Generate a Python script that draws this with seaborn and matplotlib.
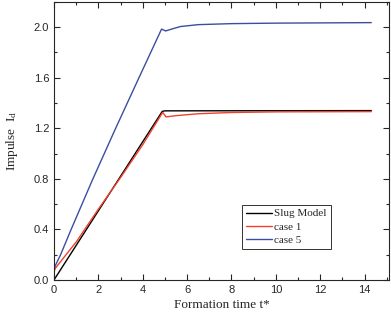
import pandas as pd
import matplotlib
matplotlib.use("Agg")
import matplotlib.pyplot as plt
import seaborn as sns
from matplotlib.ticker import MultipleLocator, FormatStrFormatter

# Data
slug_t = [0.0, 4.88, 5.0, 14.3]
slug_i = [0.0, 1.334, 1.338, 1.340]

case1_t = [0.0, 0.05, 0.5, 1.0, 2.0, 3.0, 4.0, 4.9, 5.05, 5.5, 6.5, 8.0, 10.0, 14.3]
case1_i = [0.06, 0.09, 0.19, 0.30, 0.56, 0.81, 1.07, 1.326, 1.29, 1.30, 1.315, 1.325, 1.330, 1.332]

case5_t = [0.0, 0.05, 0.3, 0.75, 1.73, 2.78, 3.83, 4.85, 5.03, 5.4, 5.7, 6.5, 8.0, 10.0, 14.3]
case5_i = [0.07, 0.11, 0.20, 0.39, 0.79, 1.20, 1.60, 1.985, 1.97, 1.99, 2.005, 2.02, 2.028, 2.032, 2.036]

labels = ["Slug Model", "case 1", "case 5"]
colors = ["#000000", "#f0402e", "#3b4ea0"]

frames = []
for name, t, i in zip(labels, [slug_t, case1_t, case5_t], [slug_i, case1_i, case5_i]):
    frames.append(pd.DataFrame({"t": t, "I": i, "series": name}))
df = pd.concat(frames, ignore_index=True)

sns.set_style("ticks")
plt.rcParams["font.family"] = ["Liberation Sans", "DejaVu Sans"]
plt.rcParams["mathtext.fontset"] = "custom"
plt.rcParams["mathtext.rm"] = "Liberation Serif"
plt.rcParams["mathtext.it"] = "Liberation Serif"

fig = plt.figure(figsize=(3.91, 3.16), dpi=100)
ax = fig.add_axes([0.138, 0.114, 0.857, 0.880])

sns.lineplot(data=df, x="t", y="I", hue="series", palette=dict(zip(labels, colors)),
             hue_order=labels, linewidth=1.0, sort=False, ax=ax, estimator=None)

ax.set_xlim(0, 15.1)
ax.set_ylim(0, 2.2)
ax.xaxis.set_major_locator(MultipleLocator(2))
ax.xaxis.set_minor_locator(MultipleLocator(1))
ax.yaxis.set_major_locator(MultipleLocator(0.4))
ax.yaxis.set_minor_locator(MultipleLocator(0.2))
ax.yaxis.set_major_formatter(FormatStrFormatter("%.1f"))
ax.tick_params(which="both", direction="in", top=True, right=True, labelsize=8, width=0.8)
ax.tick_params(which="major", length=4)
ax.tick_params(which="minor", length=2.5)
for s in ax.spines.values():
    s.set_linewidth(0.8)

serif = ["Liberation Serif", "DejaVu Serif"]
ax.set_xlabel("Formation time t*", family=serif, fontsize=9.5, labelpad=3)
ax.set_ylabel("Impulse  I$_\\mathregular{d}$", family=serif, fontsize=9.5, labelpad=10)

leg = ax.legend(loc="lower left", bbox_to_anchor=(0.562, 0.113), frameon=True, fancybox=False,
                edgecolor="#333333", framealpha=1, prop={"family": serif, "size": 8},
                handlelength=2.3, handletextpad=0.25, borderpad=0.35, labelspacing=0.3,
                borderaxespad=0)
leg.get_frame().set_linewidth(0.7)
for line in leg.get_lines():
    line.set_linewidth(1.0)

fig.savefig("out.png", dpi=100)
